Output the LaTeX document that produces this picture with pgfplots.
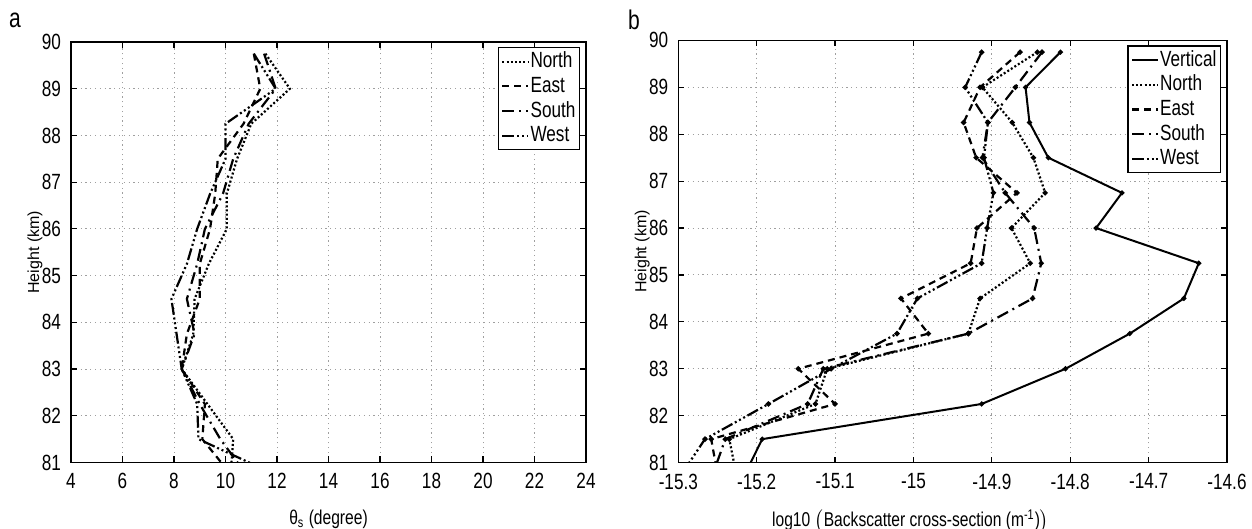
\documentclass[border=0pt]{standalone}
\usepackage{fontspec}
\setmainfont{Liberation Sans}
\newfontfamily\nfont{Liberation Sans}[FakeStretch=0.78]
\usepackage{pgfplots}
\pgfplotsset{compat=1.18}

\tikzset{
  vert/.style={black, line width=1pt, solid},
  north/.style={black, line width=1.1pt, dash pattern=on 1pt off 1.1pt},
  east/.style={black, line width=1.1pt, dash pattern=on 3.5pt off 2.5pt},
  south/.style={black, line width=1.1pt, dash pattern=on 6pt off 2.5pt on 1pt off 2.5pt},
  west/.style={black, line width=1.1pt, dash pattern=on 6pt off 1.4pt on 1pt off 1.4pt on 1pt off 1.4pt on 1pt off 1.4pt},
}

\pgfplotsset{
  panel/.style={
    scale only axis,
    ymin=81, ymax=90, ytick={81,82,...,90},
    enlarge x limits=false,
    axis line style={line width=0.8pt},
    tick align=inside, major tick length=3pt,
    tick style={black, line width=0.6pt},
    grid=major,
    grid style={gray!75, line width=0.5pt, dash pattern=on 0.6pt off 1.8pt},
    /pgf/number format/assume math mode=true,
    ticklabel style={font=\nfont\fontsize{11}{12}\selectfont},
    xticklabel style={yshift=-2pt},
    yticklabel style={xshift=-1.5pt},
    xlabel style={font=\nfont\fontsize{10}{12}\selectfont},
    ylabel={Height (km)},
    ylabel style={font=\fontsize{8}{10}\selectfont,
      at={(axis description cs:0,0.5)}, anchor=center, yshift=18pt},
    legend image code/.code={\draw[#1] (0pt,0pt) -- (13pt,0pt);},
    legend cell align=left,
    legend style={draw=black, line width=0.6pt, fill=white,
      at={(1,1)}, anchor=north east, xshift=-3pt, yshift=-2.5pt,
      inner sep=1.5pt, row sep=1.35pt,
      font=\nfont\fontsize{11}{12}\selectfont,
      nodes={inner sep=0.5pt, text height=8pt, text depth=2pt}},
  },
}

\begin{document}
\begin{tikzpicture}
\useasboundingbox (0,0) rectangle (626pt,264.5pt);
\node[font=\nfont\fontsize{13.5}{15}\selectfont] at (7.5pt,254.5pt) {a};
\node[font=\nfont\fontsize{13.5}{15}\selectfont] at (317pt,254.5pt) {b};

\begin{axis}[panel,
    at={(35.5pt,33.25pt)}, anchor=south west,
    width=257.5pt, height=210.25pt,
    xmin=4, xmax=24, xtick={4,6,...,24},
    xlabel={θ\textsubscript{s} (degree)},
    xlabel style={at={(axis description cs:0.5,0)}, anchor=center, yshift=-28.5pt},
]
\addplot[north] coordinates {(11.55,89.75) (12.5,89.0) (11.0,88.25) (10.45,87.5) (10.05,86.75) (10.05,86.0) (9.35,85.25) (8.8,84.5) (8.75,83.75) (8.3,83.0) (9.3,82.25) (10.3,81.5) (10.2,80.75)};
\addplot[east] coordinates {(11.1,89.75) (11.35,89.0) (10.7,88.25) (9.7,87.5) (9.6,86.75) (9.4,86.0) (9.0,85.25) (9.0,84.5) (8.5,83.75) (8.3,83.0) (9.2,82.25) (9.1,81.5) (10.2,80.75)};
\addplot[south] coordinates {(11.5,89.75) (11.95,89.0) (10.9,88.25) (10.3,87.5) (9.9,86.75) (9.2,86.0) (8.9,85.25) (8.5,84.5) (8.8,83.75) (8.3,83.0) (9.0,82.25) (9.8,81.5) (10.8,80.75)};
\addplot[west] coordinates {(11.1,89.75) (11.95,89.0) (10.0,88.25) (10.0,87.5) (9.4,86.75) (8.9,86.0) (8.5,85.25) (7.9,84.5) (8.1,83.75) (8.3,83.0) (8.9,82.25) (8.95,81.5) (11.9,80.75)};
\legend{North, East, South, West}
\end{axis}

\begin{axis}[panel,
    at={(339.15pt,33.2pt)}, anchor=south west,
    width=274.35pt, height=211.1pt,
    xmin=-15.3, xmax=-14.6,
    xtick={-15.3,-15.2,-15.1,-15,-14.9,-14.8,-14.7,-14.6},
    xticklabels={-15.3,-15.2,-15.1,-15,-14.9,-14.8,-14.7,-14.6},
    xlabel={log10 $\bigl($Backscatter cross-section (m\textsuperscript{-1})$\bigr)$},
    xlabel style={at={(axis description cs:0.5,0)}, anchor=center, yshift=-29.5pt, xshift=-21pt},
    every axis plot/.append style={mark=*, mark size=0.7pt, mark options={solid, fill=black}},
]
\addplot[vert] coordinates {(-14.8125,89.75) (-14.857,89.0) (-14.852,88.25) (-14.828,87.5) (-14.734,86.75) (-14.767,86.0) (-14.636,85.25) (-14.655,84.5) (-14.724,83.75) (-14.806,83.0) (-14.913,82.25) (-15.193,81.5) (-15.215,80.75)};
\addplot[north] coordinates {(-14.842,89.75) (-14.912,89.0) (-14.874,88.25) (-14.847,87.5) (-14.832,86.75) (-14.875,86.0) (-14.851,85.25) (-14.915,84.5) (-14.930,83.75) (-15.110,83.0) (-15.125,82.25) (-15.235,81.5) (-15.226,80.75)};
\addplot[east] coordinates {(-14.864,89.75) (-14.915,89.0) (-14.936,88.25) (-14.920,87.5) (-14.868,86.75) (-14.919,86.0) (-14.927,85.25) (-15.016,84.5) (-14.981,83.75) (-15.147,83.0) (-15.100,82.25) (-15.258,81.5) (-15.250,80.75)};
\addplot[south] coordinates {(-14.836,89.75) (-14.870,89.0) (-14.905,88.25) (-14.912,87.5) (-14.883,86.75) (-14.846,86.0) (-14.837,85.25) (-14.848,84.5) (-14.930,83.75) (-15.115,83.0) (-15.135,82.25) (-15.240,81.5) (-15.256,80.75)};
\addplot[west] coordinates {(-14.913,89.75) (-14.934,89.0) (-14.905,88.25) (-14.910,87.5) (-14.898,86.75) (-14.906,86.0) (-14.913,85.25) (-14.995,84.5) (-15.021,83.75) (-15.105,83.0) (-15.185,82.25) (-15.266,81.5) (-15.296,80.75)};
\legend{Vertical, North, East, South, West}
\end{axis}
\end{tikzpicture}
\end{document}
